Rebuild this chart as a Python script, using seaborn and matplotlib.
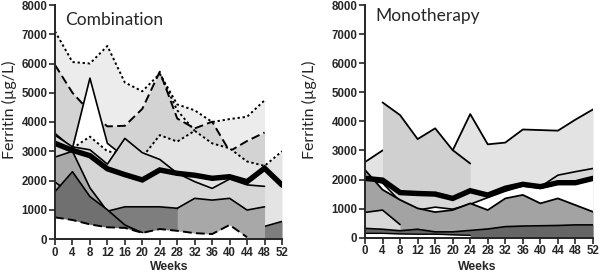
import numpy as np
import pandas as pd
import matplotlib
matplotlib.use("Agg")
import matplotlib.pyplot as plt
import seaborn as sns

sns.set_style("ticks")
plt.rcParams["font.family"] = ["Liberation Sans", "DejaVu Sans"]

N = np.nan
weeks = [0, 4, 8, 12, 16, 20, 24, 28, 32, 36, 40, 44, 48, 52]
yticks = [0, 1000, 2000, 3000, 4000, 5000, 6000, 7000, 8000]

# ---------------- Combination (individual patients, back to front) ----------------
comb_a = [7100, 6050, 6000, 6600, 5350, 5050, 5650, 4600, 4400, 4000, 4100, 4180, 4740, N]
comb_b = [5950, 5000, 4350, 3850, 3870, 4450, 5720, 4120, 3780, 4010, 3000, 3350, 3640, N]
comb_c = [3610, 3100, 5500, 3270, 2800, N, N, N, N, N, N, N, N, N]
comb_d = [N, 3100, 3500, 3000, 2900, 2800, 3550, 3330, 3700, 3270, 3100, 2650, 2500, 3000]
comb_e = [N, N, N, N, N, N, 5650, 4400, 3700, N, N, N, N, N]
comb_f = [3550, 3150, 3050, 2560, 3440, 2950, 2720, 2250, 1960, 1730, 2050, 1850, 1800, N]
comb_g = [N, N, N, 950, 1100, 1100, 1100, 1050, 540, 700, 430, 450, 430, 600]
comb_h = [N, N, N, N, N, N, N, 1050, 1390, 1330, 1390, 990, 1100, N]
comb_i = [2800, 3000, 1750, 950, 450, 220, N, N, N, N, N, N, N, N]
comb_j = [1950, 1500, 1100, N, N, N, N, N, N, N, N, N, N, N]
comb_k = [1620, 2300, 1450, 1000, 480, 200, N, N, N, N, N, N, N, N]
comb_low = [740, 650, 500, 400, 380, 210, 340, 280, 200, 170, 480, 60, N, N]
comb_median = [3270, 3030, 2850, 2400, 2200, 2020, 2360, 2245, 2180, 2075, 2130, 1960, 2420, 1845]

# ---------------- Monotherapy ----------------
mono_a = [2600, 3000, 3000, 2900, 2900, 3000, 4250, 3210, 3270, 3720, 3700, 3680, 4060, 4410]
mono_b = [N, 4650, 4215, 3390, 3760, 3010, 2550, N, N, N, N, N, N, N]
mono_c = [2050, 1950, 1550, 1520, 1480, 1350, 1620, 1470, 1700, 1850, 1750, 2150, 2270, 2380]
mono_d = [2000, 1880, 1250, 950, 1050, 980, 1150, 1380, 1600, 1780, 1700, 1850, 1850, 1990]
mono_e = [2330, 1650, 1300, 1010, 880, 950, 1180, 950, 1350, 1470, 1180, 1350, 1120, 890]
mono_f = [870, 950, 450, N, N, N, N, N, N, N, N, N, N, N]
mono_g = [320, 290, 240, 290, 200, 200, 250, 300, 380, 400, 410, 420, 440, 440]
mono_h = [150, 150, 130, 120, 120, 100, 80, N, N, N, N, N, N, N]
mono_median = [2040, 1980, 1550, 1520, 1500, 1350, 1615, 1465, 1700, 1835, 1755, 1890, 1890, 2040]

DOT = (0, (1.2, 1.4))
DASH = (0, (4.5, 2.2))

comb_layers = [
    (comb_a, "#ececec", DOT, 1.4),
    (comb_b, "#d3d3d3", DASH, 1.4),
    (comb_c, "#ffffff", "-", 1.2),
    (comb_d, "#e4e4e4", DOT, 1.4),
    (comb_e, None, DOT, 1.4),
    (comb_f, "#d6d6d6", "-", 1.2),
    (comb_g, "#7e7e7e", "-", 1.2),
    (comb_h, "#a8a8a8", "-", 1.2),
    (comb_i, "#a9a9a9", "-", 1.2),
    (comb_j, "#bcbcbc", "-", 1.2),
    (comb_k, "#707070", "-", 1.2),
    (comb_low, "#ffffff", DASH, 1.4),
]
mono_layers = [
    (mono_a, "#e3e3e3", "-", 1.3),
    (mono_b, "#d0d0d0", "-", 1.3),
    (mono_c, "#d8d8d8", "-", 1.2),
    (mono_d, "#ffffff", "-", 1.2),
    (mono_e, "#a3a3a3", "-", 1.3),
    (mono_f, "#d8d8d8", "-", 1.2),
    (mono_g, "#666666", "-", 1.2),
    (mono_h, "#ffffff", "-", 1.0),
]


def draw_panel(ax, layers, median, title, title_y):
    z = 1
    for vals, fill, ls, lw in layers:
        s = pd.Series(vals, index=weeks, dtype=float).dropna()
        x = s.index.values.astype(float)
        y = s.values
        if fill is not None:
            ax.fill_between(x, 0, y, color=fill, lw=0, zorder=z)
        sns.lineplot(x=x, y=y, ax=ax, color="black", lw=lw, linestyle=ls, zorder=z + 0.5)
        z += 1
    sns.lineplot(x=weeks, y=median, ax=ax, color="black", lw=3.9, zorder=z + 1,
                 solid_joinstyle="miter")
    ax.set_xlim(0, 52)
    ax.set_ylim(0, 8000)
    ax.set_xticks(weeks)
    ax.set_yticks(yticks)
    ax.set_xlabel("")
    ax.set_ylabel("")
    ax.tick_params(axis="both", direction="out", length=4, width=1.2, pad=1.5,
                   labelsize=8.3)
    for lab in ax.get_xticklabels() + ax.get_yticklabels():
        lab.set_fontweight("bold")
    sns.despine(ax=ax)
    for sp in ("left", "bottom"):
        ax.spines[sp].set_linewidth(1.4)
        ax.spines[sp].set_zorder(50)
    ax.text(0.045, title_y, title, transform=ax.transAxes, fontsize=12.5,
            family=["Lato", "DejaVu Sans"], va="baseline", ha="left", zorder=60)


fig = plt.figure(figsize=(6, 2.74), dpi=100)
axL = fig.add_axes([55 / 600, 35 / 274, 227 / 600, 234 / 274])
axR = fig.add_axes([365 / 600, 36.3 / 274, 228 / 600, 232.7 / 274])

draw_panel(axL, comb_layers, comb_median, "Combination", 1 - 20 / 234)
draw_panel(axR, mono_layers, mono_median, "Monotherapy", 1 - 16 / 232.7)

for xc in (9, 309):
    fig.text(xc / 600, 1 - 110 / 274, "Ferritin (µg/L)", rotation=90, va="center",
             ha="center", fontsize=11.5, family=["Lato", "DejaVu Sans"])
for xc in (169, 477):
    fig.text(xc / 600, 1 - 267.5 / 274, "Weeks", va="center", ha="center",
             fontsize=8.8, fontweight="bold")

fig.savefig("out.png", dpi=100)
